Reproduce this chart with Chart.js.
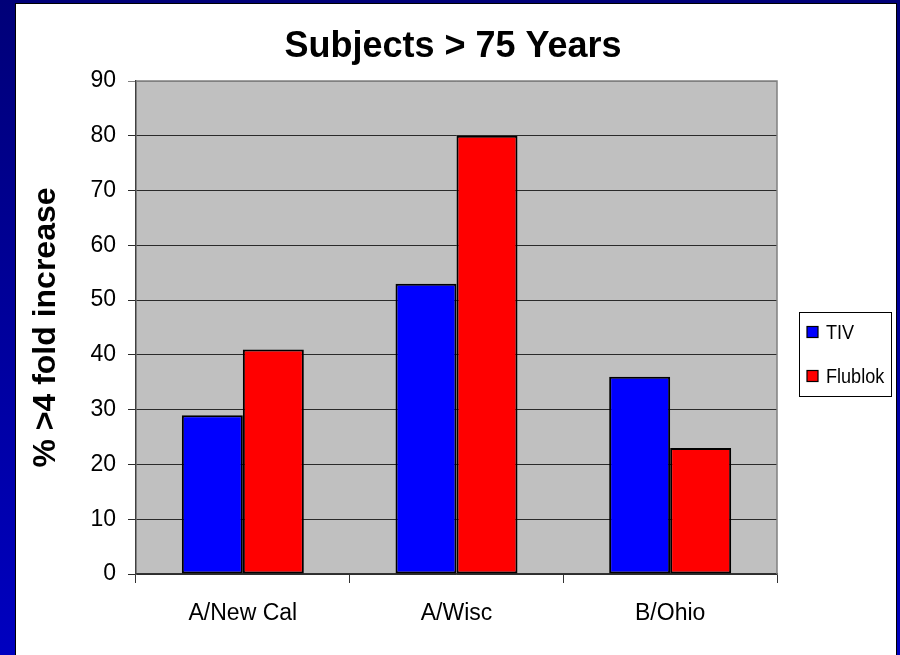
<!DOCTYPE html>
<html>
<head>
<meta charset="utf-8">
<script src="https://cdn.jsdelivr.net/npm/chart.js@4.4.1/dist/chart.umd.min.js"></script>
<style>
  html, body { margin: 0; padding: 0; background: #000080; }
  #wrap { position: absolute; left: 0; top: 0; width: 900px; height: 655px; }
</style>
</head>
<body>
<div id="wrap"><canvas id="c" width="900" height="655"></canvas></div>
<script>
const categories = ['A/New Cal', 'A/Wisc', 'B/Ohio'];
const seriesNames = ['TIV', 'Flublok'];
const tivValues = [29, 53, 36];
const flublokValues = [41, 80, 23];
const yMin = 0, yMax = 90, yStep = 10;
const chartTitle = 'Subjects > 75 Years';
const yAxisTitle = '% >4 fold increase';

const FONT = "'Liberation Sans', Arial, sans-serif";

const framePlugin = {
  id: 'frame',
  beforeDraw(chart) {
    const ctx = chart.ctx;
    const W = chart.width, H = chart.height;
    ctx.save();
    const g = ctx.createLinearGradient(0, 0, 0, H);
    g.addColorStop(0, '#000078');
    g.addColorStop(1, '#0000c0');
    ctx.fillStyle = g;
    ctx.fillRect(0, 0, W, H);
    ctx.fillStyle = '#ffffff';
    ctx.fillRect(16, 4, 880, H - 4);
    ctx.strokeStyle = '#000000';
    ctx.lineWidth = 1;
    ctx.strokeRect(15.5, 3.5, 881, H);
    const a = chart.chartArea;
    ctx.fillStyle = '#c0c0c0';
    ctx.fillRect(a.left, a.top, a.right - a.left, a.bottom - a.top);
    ctx.restore();
  },
  afterDraw(chart) {
    const ctx = chart.ctx;
    const a = chart.chartArea;
    ctx.save();
    ctx.strokeStyle = '#808080';
    ctx.lineWidth = 1.5;
    ctx.beginPath();
    ctx.moveTo(a.left, a.top);
    ctx.lineTo(a.right, a.top);
    ctx.lineTo(a.right, a.bottom);
    ctx.stroke();
    // title
    ctx.fillStyle = '#000';
    ctx.font = "bold 36px " + FONT;
    ctx.textAlign = 'center';
    ctx.textBaseline = 'alphabetic';
    ctx.fillText(chartTitle, 453, 57);
    // legend
    ctx.lineWidth = 1;
    ctx.strokeStyle = '#000';
    ctx.strokeRect(799.5, 312.5, 92, 84);
    const ds = chart.data.datasets;
    const rows = [332, 376];
    ctx.font = "21px " + FONT;
    ctx.textAlign = 'left';
    ctx.textBaseline = 'middle';
    ds.forEach((d, i) => {
      const y = rows[i];
      ctx.fillStyle = d.backgroundColor;
      ctx.fillRect(807, y - 5.5, 11, 11);
      ctx.strokeStyle = '#000';
      ctx.lineWidth = 1.2;
      ctx.strokeRect(807, y - 5.5, 11, 11);
      ctx.fillStyle = '#000';
      ctx.save();
      ctx.translate(826, y + 1);
      ctx.scale(0.86, 1);
      ctx.fillText(d.label, 0, 0);
      ctx.restore();
    });
    ctx.restore();
  }
};

new Chart(document.getElementById('c'), {
  type: 'bar',
  data: {
    labels: categories,
    datasets: [
      { label: seriesNames[0], data: tivValues, backgroundColor: '#0000ff', borderColor: '#000', borderWidth: 2 },
      { label: seriesNames[1], data: flublokValues, backgroundColor: '#ff0000', borderColor: '#000', borderWidth: 2 }
    ]
  },
  options: {
    responsive: false,
    animation: false,
    devicePixelRatio: 1,
    layout: { padding: { left: 0, right: 123, top: 81, bottom: 0 } },
    datasets: { bar: { categoryPercentage: 0.571, barPercentage: 1.0, borderSkipped: false } },
    plugins: { legend: { display: false }, title: { display: false }, tooltip: { enabled: false } },
    scales: {
      x: {
        offset: true,
        grid: { display: true, drawOnChartArea: false, drawTicks: true, tickLength: 9, offset: true, color: '#333', lineWidth: 1 },
        border: { display: true, color: '#333', width: 1.5 },
        ticks: { color: '#000', font: { family: FONT, size: 23 }, padding: 17, maxRotation: 0 },
        afterFit(s) { s.height = 81; }
      },
      y: {
        min: yMin, max: yMax,
        grid: {
          drawTicks: true, tickLength: 8,
          color: (c) => (c.tick && c.tick.value === yMax) ? '#808080' : '#2a2a2a',
          lineWidth: 1
        },
        border: { display: true, color: '#404040', width: 1.5 },
        ticks: { stepSize: yStep, color: '#000', font: { family: FONT, size: 23 }, padding: 12 },
        title: { display: true, text: yAxisTitle, color: '#000', font: { family: FONT, size: 32, weight: 'bold' }, padding: { top: 27, bottom: 0 } },
        afterFit(s) { s.width = 136; }
      }
    }
  },
  plugins: [framePlugin]
});
</script>
</body>
</html>
